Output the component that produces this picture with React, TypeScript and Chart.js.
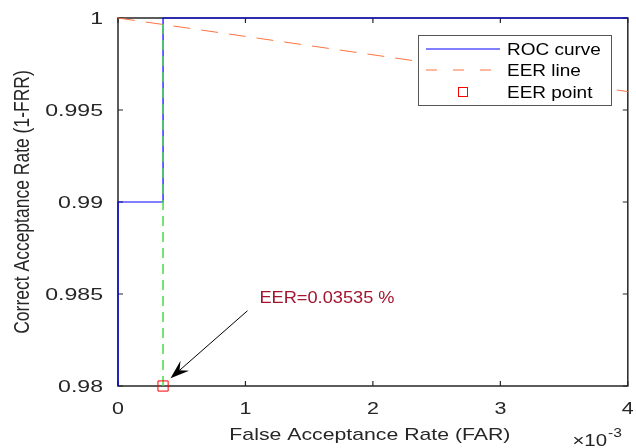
import React, { useEffect, useRef } from 'react';
import { Chart, registerables } from 'chart.js';

Chart.register(...registerables);

// ---- data ----
const eerRate = 0.0003535;
const rocFAR = [0, 0, 0.0003535, 0.0003535, 0.004];
const rocCAR = [0.98, 0.99, 0.99, 1, 1];
const eerLineFAR = [0, 0.004];
const eerLineCAR = [1, 0.996];
const eerGuideFAR = [eerRate, eerRate];
const eerGuideCAR = [0.98, 1];
const eerPointFAR = [eerRate];
const eerPointCAR = [0.98];

const xTickValues = [0, 0.001, 0.002, 0.003, 0.004];
const xTickLabels = ['0', '1', '2', '3', '4'];
const yTickValues = [0.98, 0.985, 0.99, 0.995, 1];
const yTickLabels = ['0.98', '0.985', '0.99', '0.995', '1'];

const seriesNames = ['ROC curve', 'EER line', 'EER point'];
const xTitle = 'False Acceptance Rate (FAR)';
const yTitle = 'Correct Acceptance Rate (1-FRR)';
const xExponentBase = '\u00d710';
const xExponent = '-3';

const annotationText = 'EER=0.03535 %';
const annotationTextAt = [0.00111, 0.98475];
const annotationArrowFrom = [0.001016, 0.98409];
const annotationArrowTo = [0.000412, 0.98042];

// ---- styles ----
const FONT = '"Liberation Sans", Arial, sans-serif';
const AXIS_COLOR = '#262626';
const ROC_COLOR = '#0000FF';
const EER_LINE_COLOR = 'rgb(255,115,65)';
const GUIDE_COLOR = '#40e040';
const POINT_COLOR = '#FF0000';
const ANNOT_COLOR = '#A2142F';

const pts = (xs: number[], ys: number[]) => xs.map((x, i) => ({ x, y: ys[i] }));

function drawText(
  ctx: CanvasRenderingContext2D,
  text: string,
  x: number,
  y: number,
  size: number,
  sx: number,
  align: CanvasTextAlign,
  color: string,
  rotate = 0
) {
  ctx.save();
  ctx.translate(x, y);
  ctx.scale(sx, 1);
  if (rotate) ctx.rotate(rotate);
  ctx.font = `${size}px ${FONT}`;
  ctx.fillStyle = color;
  ctx.textAlign = align;
  ctx.textBaseline = 'middle';
  ctx.fillText(text, 0, 0);
  ctx.restore();
}

const decorPlugin = {
  id: 'decor',
  beforeDatasetsDraw(chart: any) {
    const { ctx, chartArea: a, scales } = chart;
    const xs = scales.x;
    const ys = scales.y;
    ctx.save();
    ctx.strokeStyle = AXIS_COLOR;
    ctx.lineWidth = 1.5;
    ctx.strokeRect(a.left, a.top, a.right - a.left, a.bottom - a.top);
    ctx.lineWidth = 1.2;
    ctx.beginPath();
    xTickValues.forEach((v) => {
      const px = xs.getPixelForValue(v);
      ctx.moveTo(px, a.bottom);
      ctx.lineTo(px, a.bottom - 5);
      ctx.moveTo(px, a.top);
      ctx.lineTo(px, a.top + 5);
    });
    yTickValues.forEach((v) => {
      const py = ys.getPixelForValue(v);
      ctx.moveTo(a.left, py);
      ctx.lineTo(a.left + 5, py);
      ctx.moveTo(a.right, py);
      ctx.lineTo(a.right - 5, py);
    });
    ctx.stroke();
    ctx.restore();
  },
  afterDatasetsDraw(chart: any) {
    const { ctx, chartArea: a, scales } = chart;
    const xs = scales.x;
    const ys = scales.y;

    // tick labels
    xTickValues.forEach((v, i) => {
      drawText(ctx, xTickLabels[i], xs.getPixelForValue(v), a.bottom + 23, 16.5, 1.3, 'center', AXIS_COLOR);
    });
    yTickValues.forEach((v, i) => {
      drawText(ctx, yTickLabels[i], a.left - 15, ys.getPixelForValue(v) + 1, 16.5, 1.4, 'right', AXIS_COLOR);
    });

    // axis titles
    drawText(ctx, xTitle, (a.left + a.right) / 2 - 3, a.bottom + 49, 17, 1.25, 'center', AXIS_COLOR);
    drawText(ctx, yTitle, 23, (a.top + a.bottom) / 2, 17.5, 1.3, 'center', AXIS_COLOR, -Math.PI / 2);
    drawText(ctx, xExponentBase, 607, a.bottom + 55, 17, 1.2, 'right', AXIS_COLOR);
    drawText(ctx, xExponent, 608, a.bottom + 47, 13, 1.2, 'left', AXIS_COLOR);

    // annotation text + arrow
    drawText(
      ctx,
      annotationText,
      xs.getPixelForValue(annotationTextAt[0]),
      ys.getPixelForValue(annotationTextAt[1]),
      17,
      1.07,
      'left',
      ANNOT_COLOR
    );
    const sx0 = xs.getPixelForValue(annotationArrowFrom[0]);
    const sy0 = ys.getPixelForValue(annotationArrowFrom[1]);
    const tx = xs.getPixelForValue(annotationArrowTo[0]);
    const ty = ys.getPixelForValue(annotationArrowTo[1]);
    const dx = tx - sx0;
    const dy = ty - sy0;
    const len = Math.hypot(dx, dy);
    const ux = dx / len;
    const uy = dy / len;
    const nx = -uy;
    const ny = ux;
    const headLen = 19;
    const headW = 6.5;
    const notch = 12;
    ctx.save();
    ctx.strokeStyle = '#000';
    ctx.fillStyle = '#000';
    ctx.lineWidth = 1;
    ctx.beginPath();
    ctx.moveTo(sx0, sy0);
    ctx.lineTo(tx - ux * notch, ty - uy * notch);
    ctx.stroke();
    ctx.beginPath();
    ctx.moveTo(tx, ty);
    ctx.lineTo(tx - ux * headLen + nx * headW, ty - uy * headLen + ny * headW);
    ctx.lineTo(tx - ux * notch, ty - uy * notch);
    ctx.lineTo(tx - ux * headLen - nx * headW, ty - uy * headLen - ny * headW);
    ctx.closePath();
    ctx.fill();
    ctx.restore();

    // legend
    const lx = 418;
    const ly = 35;
    const lw = 193;
    const lh = 70;
    ctx.save();
    ctx.fillStyle = '#fff';
    ctx.fillRect(lx, ly, lw, lh);
    ctx.strokeStyle = '#555';
    ctx.lineWidth = 1;
    ctx.strokeRect(lx + 0.5, ly + 0.5, lw, lh);
    const rows = [49, 70, 92];
    // ROC
    ctx.strokeStyle = ROC_COLOR;
    ctx.lineWidth = 1.2;
    ctx.beginPath();
    ctx.moveTo(426, rows[0]);
    ctx.lineTo(500, rows[0]);
    ctx.stroke();
    // EER line
    ctx.strokeStyle = EER_LINE_COLOR;
    ctx.lineWidth = 1;
    ctx.setLineDash([11, 16]);
    ctx.beginPath();
    ctx.moveTo(426, rows[1]);
    ctx.lineTo(500, rows[1]);
    ctx.stroke();
    ctx.setLineDash([]);
    // EER point
    ctx.strokeStyle = POINT_COLOR;
    ctx.strokeRect(458.5, rows[2] - 4.5, 9, 9);
    ctx.restore();
    seriesNames.forEach((n, i) => {
      drawText(ctx, n, 507, rows[i] + 1, 16.5, 1.15, 'left', '#000');
    });
  },
};

export default function App() {
  const canvasRef = useRef<HTMLCanvasElement | null>(null);

  useEffect(() => {
    if (!canvasRef.current) return;
    const chart = new Chart(canvasRef.current, {
      type: 'scatter',
      data: {
        datasets: [
          {
            label: seriesNames[0],
            data: pts(rocFAR, rocCAR),
            showLine: true,
            borderColor: ROC_COLOR,
            borderWidth: 1.2,
            pointRadius: 0,
            fill: false,
            clip: false,
            order: 4,
          } as any,
          {
            label: seriesNames[1],
            data: pts(eerLineFAR, eerLineCAR),
            showLine: true,
            borderColor: EER_LINE_COLOR,
            borderWidth: 1,
            borderDash: [17, 11],
            pointRadius: 0,
            fill: false,
            clip: false,
            order: 3,
          },
          {
            label: 'EER threshold',
            data: pts(eerGuideFAR, eerGuideCAR),
            showLine: true,
            borderColor: GUIDE_COLOR,
            borderWidth: 1.5,
            borderDash: [10, 6],
            pointRadius: 0,
            fill: false,
            clip: false,
            order: 2,
          },
          {
            label: seriesNames[2],
            data: pts(eerPointFAR, eerPointCAR),
            showLine: false,
            pointStyle: 'rect',
            pointRadius: 7.2,
            pointBorderColor: POINT_COLOR,
            pointBackgroundColor: 'rgba(0,0,0,0)',
            pointBorderWidth: 1,
            clip: false,
            order: 1,
          },
        ],
      },
      options: {
        responsive: false,
        animation: false,
        events: [],
        layout: { padding: { top: 18, right: 6, left: 0, bottom: 0 } },
        plugins: {
          legend: { display: false },
          tooltip: { enabled: false },
          title: { display: false },
        },
        scales: {
          x: {
            type: 'linear',
            min: 0,
            max: 0.004,
            grid: { display: false },
            border: { display: false },
            ticks: { display: false },
            afterBuildTicks: (s: any) => {
              s.ticks = xTickValues.map((v) => ({ value: v }));
            },
            afterFit: (s: any) => {
              s.height = 62;
            },
          },
          y: {
            type: 'linear',
            min: 0.98,
            max: 1,
            grid: { display: false },
            border: { display: false },
            ticks: { display: false },
            afterBuildTicks: (s: any) => {
              s.ticks = yTickValues.map((v) => ({ value: v }));
            },
            afterFit: (s: any) => {
              s.width = 118;
            },
          },
        },
      },
      plugins: [decorPlugin],
    });
    return () => chart.destroy();
  }, []);

  return (
    <div style={{ position: 'fixed', left: 0, top: 0, width: 636, height: 448, background: '#fff' }}>
      <canvas ref={canvasRef} width={636} height={448} />
    </div>
  );
}
